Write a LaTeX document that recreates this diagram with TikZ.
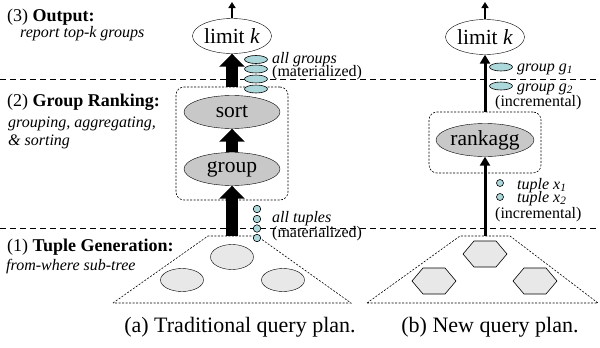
\documentclass[tikz,border=0pt]{standalone}
\usepackage{fontspec}
\setmainfont{Liberation Serif}
\usetikzlibrary{arrows.meta,shapes.geometric}

\definecolor{tuplecyan}{RGB}{172,216,220}
\definecolor{opgray}{RGB}{200,200,200}
\definecolor{leafgray}{RGB}{232,232,232}

\newcommand\tagfont{\fontsize{16}{13}\selectfont\setlength{\lineskiplimit}{-20pt}\setlength{\lineskip}{0pt}}

\begin{document}
\begin{tikzpicture}[x=1pt,y=-1pt,
        op/.style={ellipse,draw,fill=opgray,inner sep=0pt,minimum width=96pt,minimum height=33pt,font=\fontsize{21.5}{24}\selectfont},
        limitop/.style={ellipse,draw,fill=white,inner sep=0pt,minimum width=69pt,minimum height=35pt,font=\fontsize{21.5}{24}\selectfont},
        leaf/.style={ellipse,draw,fill=leafgray,inner sep=0pt,minimum width=43pt,minimum height=23pt},
        grpmark/.style={ellipse,draw,fill=tuplecyan,inner sep=0pt,minimum width=23pt,minimum height=8pt,line width=0.6pt},
        tupmark/.style={circle,draw,fill=tuplecyan,inner sep=0pt,minimum size=7.5pt,line width=0.6pt},
        region/.style={draw,line width=0.6pt,dash pattern=on 2pt off 1.5pt},
        stagebox/.style={region,rounded corners=8pt,inner sep=0pt},
        level/.style={line width=1pt,dash pattern=on 6pt off 4pt},
        bigarrow/.style={line width=12pt,-{Triangle[length=13pt,width=25pt]}},
        thinarrow/.style={line width=3pt,-{Triangle[length=9pt,width=10pt]}},
        outarrow/.style={line width=1.6pt,-{Triangle[length=6pt,width=7pt]}},
        head/.style={anchor=base west,inner sep=0pt,font=\fontsize{18}{20}\selectfont},
        note/.style={anchor=base west,inner sep=0pt,font=\fontsize{16}{18}\selectfont\itshape},
        tag/.style={anchor=base west,inner sep=0pt,align=left,font=\tagfont},
        caption/.style={anchor=base,inner sep=0pt,font=\fontsize{22}{24}\selectfont}]

    \useasboundingbox (0,0) rectangle (600,348);

    % stage borders
    \draw[level] (0,79) -- (600,79);
    \draw[level] (0,228) -- (600,228);

    % stage names
    \node[head] (outH) at (7,21) {(3) \textbf{Output:}};
    \node[note] (outN) at (20,37) {report top-k groups};
    \node[head] (rankH) at (7,106) {(2) \textbf{Group Ranking:}};
    \node[note] (rankN1) at (8,127) {grouping, aggregating,};
    \node[note] (rankN2) at (8,145) {\& sorting};
    \node[head] (genH) at (7,251) {(1) \textbf{Tuple Generation:}};
    \node[note] (genN) at (6,270) {from-where sub-tree};

    % (a) traditional plan
    \draw[region] (113,303) -- (208,236) -- (257,236) -- (351,303) -- cycle;
    \coordinate (treeA) at (232,236);
    \node[leaf,minimum height=25pt] (leafA1) at (232,257) {};
    \node[leaf] (leafA2) at (182,280) {};
    \node[leaf] (leafA3) at (283,280) {};

    \node[stagebox,minimum width=112pt,minimum height=113pt] (rankA) at (232,143.5) {};
    \node[op] (groupA) at (232,169) {group};
    \node[op] (sortA) at (232,112) {sort};
    \node[limitop] (limitA) at (232,36) {limit \textit{k}};
    \coordinate (topA) at (232,2);

    \draw[bigarrow] (treeA) -- (groupA.south);
    \draw[bigarrow] (groupA.north) -- (sortA.south);
    \draw[bigarrow] (rankA.north) -- (limitA.south);
    \draw[outarrow] (limitA.north) -- (topA);

    \foreach \y in {59.5,69,79,89}
        \node[grpmark] (gA-\y) at (256,\y) {};
    \foreach \y in {209,219,228.5,238}
        \node[tupmark] (tA-\y) at (257,\y) {};
    \node[tag] (allG) at (272,76) {\textit{all groups}\\(materialized)};
    \node[tag] (allT) at (272,237) {\textit{all tuples}\\[2pt](materialized)};

    % (b) new plan
    \draw[region] (367,303) -- (460,236) -- (510,236) -- (598,303) -- cycle;
    \coordinate (treeB) at (485,236);
    \foreach \c in {(485,254),(434,281),(535,281)}
        \filldraw[fill=leafgray,line width=0.6pt] \c ++(-22,0) -- ++(11,-13) -- ++(22,0)
            -- ++(11,13) -- ++(-11,13) -- ++(-22,0) -- cycle;

    \node[stagebox,minimum width=112pt,minimum height=61pt] (rankB) at (485,142.5) {};
    \node[op] (aggB) at (485,140) {rankagg};
    \node[limitop] (limitB) at (485,37) {limit \textit{k}};
    \coordinate (topB) at (485,2);

    \draw[thinarrow] (treeB) -- (aggB.south);
    \draw[thinarrow] (rankB.north) -- (limitB.south);
    \draw[outarrow] (limitB.north) -- (topB);

    \node[grpmark] (gB1) at (501,67) {};
    \node[grpmark] (gB2) at (501,86) {};
    \node[tupmark,minimum size=7pt] (tB1) at (500,183) {};
    \node[tupmark,minimum size=7pt] (tB2) at (500,197) {};
    \node[tag] (grpG1) at (517,71) {\textit{group g\textsubscript{1}}};
    \node[tag] (grpG2) at (495,106) {\hspace*{22pt}\textit{group g\textsubscript{2}}\\[2pt](incremental)};
    \node[tag] (tupX) at (495,218) {\hspace*{22pt}\textit{tuple x\textsubscript{1}}\\\hspace*{22pt}\textit{tuple x\textsubscript{2}}\\[3pt](incremental)};

    % captions
    \node[caption] (capA) at (240,332) {(a) Traditional query plan.};
    \node[caption] (capB) at (490,332) {(b) New query plan.};
\end{tikzpicture}
\end{document}
